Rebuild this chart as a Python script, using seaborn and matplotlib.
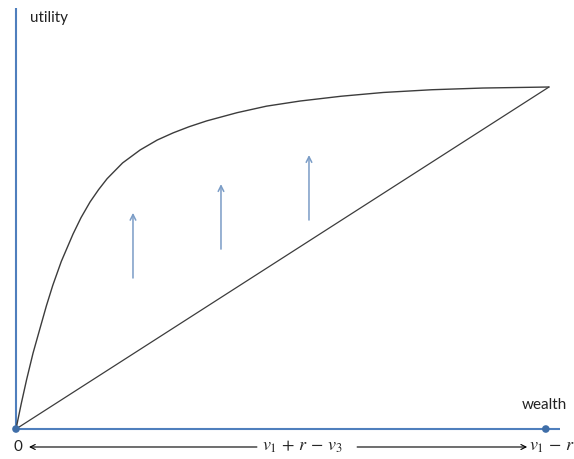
import matplotlib
matplotlib.use("Agg")
import matplotlib.pyplot as plt
import pandas as pd
import seaborn as sns

# curve points (wealth 0..1, utility 0..1)
wealth = [0, 0.01, 0.02, 0.032, 0.045, 0.057, 0.069, 0.085, 0.107, 0.122,
          0.139, 0.155, 0.171, 0.2, 0.233, 0.265, 0.295, 0.325, 0.358, 0.415,
          0.47, 0.533, 0.61, 0.689, 0.78, 0.876, 1.0]
utility = [0, 0.075, 0.145, 0.222, 0.294, 0.36, 0.42, 0.49, 0.57, 0.618,
           0.664, 0.70, 0.732, 0.778, 0.816, 0.845, 0.866, 0.884, 0.901, 0.925,
           0.944, 0.959, 0.973, 0.984, 0.992, 0.997, 1.0]
line_x = [0, 1.0]
line_y = [0, 1.0]

# upward arrows between the two curves
arrow_x = [0.2195, 0.3846, 0.5497]
arrow_from = [0.4415, 0.526, 0.611]
arrow_to = [0.632, 0.716, 0.801]

# points on the wealth axis
dot_x = [0, 0.994]
dot_y = [0, 0]

curve = pd.DataFrame({"wealth": wealth, "utility": utility})
chord = pd.DataFrame({"wealth": line_x, "utility": line_y})
dots = pd.DataFrame({"x": dot_x, "y": dot_y})

sns.set_theme(style="white")
plt.rcParams["font.family"] = ["Lato", "DejaVu Sans"]
plt.rcParams["mathtext.fontset"] = "stix"

fig = plt.figure(figsize=(5.74, 4.59), dpi=100)
ax = fig.add_axes([0, 0, 1, 1])
ax.set_xlim(-0.0300, 1.0469)
ax.set_ylim(-0.0877, 1.2544)
ax.axis("off")

axis_blue = "#4f7fbd"
arrow_blue = "#7a9cc6"

# axes drawn as lines
ax.plot([0, 0], [0, 1.231], color=axis_blue, lw=1.5, solid_capstyle="butt")
ax.plot([0, 1.0206], [0, 0], color=axis_blue, lw=1.5, solid_capstyle="butt")

sns.lineplot(data=curve, x="wealth", y="utility", color="#3c3c3c", lw=1.0,
             sort=False, ax=ax)
sns.lineplot(data=chord, x="wealth", y="utility", color="#3c3c3c", lw=0.9, ax=ax)
sns.scatterplot(data=dots, x="x", y="y", color="#3f6ea8", s=30, ax=ax,
                edgecolor="none", zorder=5)

for x, y0, y1 in zip(arrow_x, arrow_from, arrow_to):
    ax.annotate("", xy=(x, y1), xytext=(x, y0),
                arrowprops=dict(arrowstyle="->", color=arrow_blue, lw=1.1,
                                shrinkA=0, shrinkB=0, mutation_scale=10))

ax.set_xlabel("")
ax.set_ylabel("")

ax.text(0.0263, 1.2018, "utility", fontsize=11, va="center", ha="left",
        color="#222222")
ax.text(0.949, 0.0702, "wealth", fontsize=11, va="center", ha="left",
        color="#222222")

# bottom annotation
yb = -0.0526
ax.text(0.0038, yb, "0", fontsize=11, va="center", ha="center", color="#222222")
ax.annotate("", xy=(0.0244, yb), xytext=(0.452, yb),
            arrowprops=dict(arrowstyle="->", color="black", lw=0.8,
                            shrinkA=0, shrinkB=0, mutation_scale=9))
ax.text(0.5385, yb, r"$v_1\, +\, r\, -\, v_3$", fontsize=13, va="center",
        ha="center")
ax.annotate("", xy=(0.959, yb), xytext=(0.640, yb),
            arrowprops=dict(arrowstyle="->", color="black", lw=0.8,
                            shrinkA=0, shrinkB=0, mutation_scale=9))
ax.text(0.9625, yb, r"$v_1\, -\, r$", fontsize=13, va="center", ha="left")

fig.savefig("out.png", dpi=100)
